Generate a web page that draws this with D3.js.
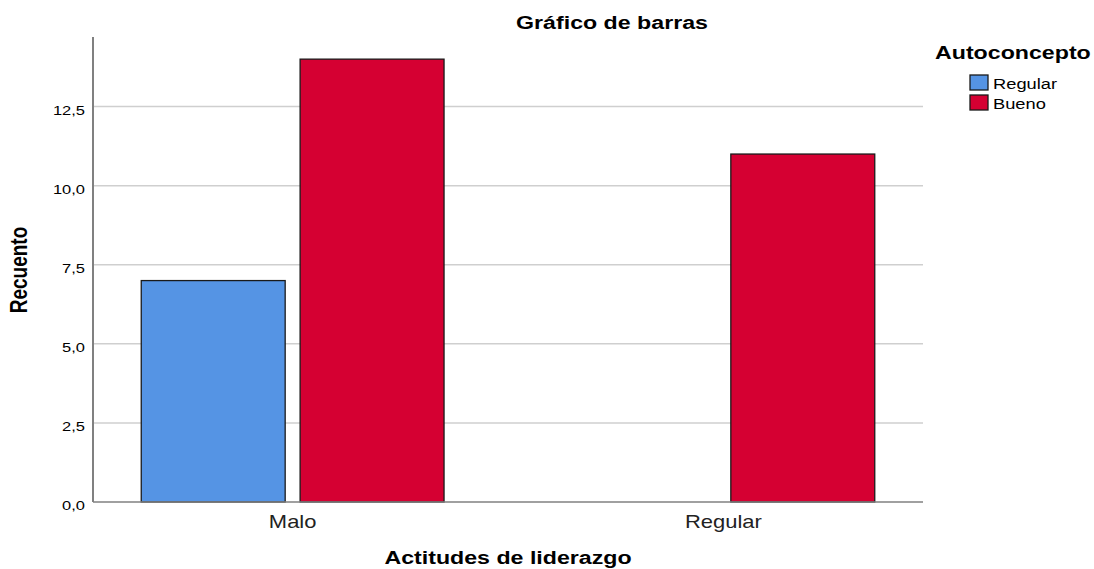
<!DOCTYPE html>
<html>
<head>
<meta charset="utf-8">
<script src="https://cdn.jsdelivr.net/npm/d3@7"></script>
<style>
  body { margin: 0; background: #fff; }
  text { font-family: "Liberation Sans", Arial, sans-serif; fill: #000; }
</style>
</head>
<body>
<svg id="chart" width="1094" height="569"></svg>
<script>
// chart values
var categories = ["Malo", "Regular"];
var seriesNames = ["Regular", "Bueno"];
var regularValues = [7, 0];
var buenoValues = [14, 11];
var yTicks = [0, 2.5, 5, 7.5, 10, 12.5];
var seriesColors = ["#5594e4", "#d50032"];

// the picture is stretched sideways, so text is widened too
var stretch = 1.22;

function drawChart() {
    var svg = d3.select("#chart");
    var plotLeft = 93, plotRight = 923, plotTop = 37, plotBottom = 502;

    var y = d3.scaleLinear().domain([0, 14.7]).range([plotBottom, plotTop]);
    var x0 = d3.scaleBand().domain(categories).range([plotLeft, plotRight])
        .paddingInner(0.297).paddingOuter(0.112);
    var x1 = d3.scaleBand().domain(seriesNames).range([0, x0.bandwidth()])
        .paddingInner(0.094);

    function addText(g, str, tx, ty, anchor, size, weight) {
        return g.append("text")
            .attr("transform", "translate(" + tx + "," + ty + ") scale(" + stretch + ",1)")
            .attr("text-anchor", anchor)
            .style("font-size", size + "px")
            .style("font-weight", weight || "normal")
            .text(str);
    }

    // gridlines
    svg.append("g").selectAll("line")
        .data(yTicks.filter(function(d) { return d > 0; }))
        .join("line")
        .attr("x1", plotLeft).attr("x2", plotRight)
        .attr("y1", function(d) { return y(d); })
        .attr("y2", function(d) { return y(d); })
        .attr("stroke", "#cfcfcf")
        .attr("stroke-width", 1.5);

    // tick labels
    var fmt = function(d) { return d3.format(".1f")(d).replace(".", ","); };
    yTicks.forEach(function(d) {
        addText(svg, fmt(d), 85, y(d) + 8, "end", 13.5);
    });

    // bars
    var rows = categories.map(function(c, i) {
        return [
            { cat: c, name: "Regular", value: regularValues[i] },
            { cat: c, name: "Bueno", value: buenoValues[i] }
        ];
    });
    svg.append("g").selectAll("g")
        .data(rows)
        .join("g")
        .attr("transform", function(d) { return "translate(" + x0(d[0].cat) + ",0)"; })
        .selectAll("rect")
        .data(function(d) { return d.filter(function(b) { return b.value > 0; }); })
        .join("rect")
        .attr("x", function(d) { return x1(d.name); })
        .attr("y", function(d) { return y(d.value); })
        .attr("width", x1.bandwidth())
        .attr("height", function(d) { return y(0) - y(d.value); })
        .attr("fill", function(d) { return seriesColors[seriesNames.indexOf(d.name)]; })
        .attr("stroke", "#1a1a1a")
        .attr("stroke-width", 1.3);

    // axis lines
    svg.append("line").attr("x1", plotLeft).attr("x2", plotLeft)
        .attr("y1", plotTop).attr("y2", plotBottom)
        .attr("stroke", "#808080").attr("stroke-width", 2);
    svg.append("line").attr("x1", plotLeft).attr("x2", plotRight)
        .attr("y1", plotBottom).attr("y2", plotBottom)
        .attr("stroke", "#808080").attr("stroke-width", 1.5);

    // category labels
    categories.forEach(function(c) {
        addText(svg, c, x0(c) + x0.bandwidth() / 2, 528, "middle", 18).style("fill", "#222");
    });

    // titles
    addText(svg, "Gráfico de barras", 612, 29, "middle", 19, "bold");
    addText(svg, "Actitudes de liderazgo", 508, 564, "middle", 19, "bold");
    svg.append("text")
        .attr("transform", "translate(27,270) scale(" + stretch + ",1) rotate(-90)")
        .attr("text-anchor", "middle")
        .style("font-size", "19px")
        .style("font-weight", "bold")
        .text("Recuento");

    // legend
    var legend = svg.append("g");
    addText(legend, "Autoconcepto", 935, 59, "start", 19, "bold");
    seriesNames.forEach(function(name, i) {
        legend.append("rect")
            .attr("x", 970).attr("y", 75 + i * 20)
            .attr("width", 18).attr("height", 15)
            .attr("fill", seriesColors[i])
            .attr("stroke", "#1a1a1a").attr("stroke-width", 1.3);
        addText(legend, name, 993, 89 + i * 20, "start", 15);
    });
}

drawChart();
</script>
</body>
</html>
